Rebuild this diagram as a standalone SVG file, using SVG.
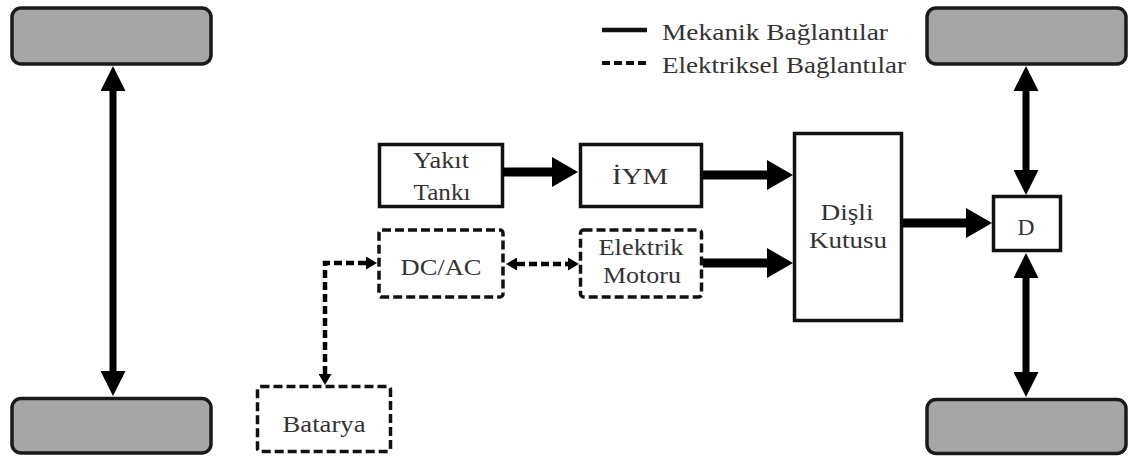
<svg xmlns="http://www.w3.org/2000/svg" width="1143" height="461" viewBox="0 0 1143 461" font-family="'Liberation Serif', 'DejaVu Serif', serif">
  <style>
    .wheel { fill: #a6a6a6; stroke: #1a1a1a; stroke-width: 3.5; }
    .box { fill: #ffffff; stroke: #111111; stroke-width: 3.5; }
    .dbox { fill: #ffffff; stroke: #111111; stroke-width: 3.5; stroke-dasharray: 9 4; }
    .mech { fill: none; stroke: #000000; stroke-width: 9; }
    .mechv { fill: none; stroke: #000000; stroke-width: 7; }
    .elec { fill: none; stroke: #000000; stroke-width: 4.5; stroke-dasharray: 8 4; }
    .lbl { font-family: 'Liberation Serif', 'DejaVu Serif', serif; font-size: 23px; fill: #333333; }
    .mid { text-anchor: middle; }
  </style>
  <defs>
    <marker id="headH" markerUnits="userSpaceOnUse" viewBox="0 0 26 30" markerWidth="26" markerHeight="30" refX="0" refY="15" orient="auto-start-reverse">
      <path d="M0,0 L26,15 L0,30 z" fill="#000"/>
    </marker>
    <marker id="headV" markerUnits="userSpaceOnUse" viewBox="0 0 25 25" markerWidth="25" markerHeight="25" refX="0" refY="12.5" orient="auto-start-reverse">
      <path d="M0,0 L25,12.5 L0,25 z" fill="#000"/>
    </marker>
    <marker id="headS" markerUnits="userSpaceOnUse" viewBox="0 0 11 13" markerWidth="11" markerHeight="13" refX="0" refY="6.5" orient="auto-start-reverse">
      <path d="M0,0 L11,6.5 L0,13 z" fill="#000"/>
    </marker>
  </defs>

  <!-- legend -->
  <g id="legend">
    <line x1="602" y1="30" x2="647" y2="30" stroke="#111" stroke-width="4.5"/>
    <text class="lbl" x="662" y="40" textLength="226" lengthAdjust="spacingAndGlyphs">Mekanik Bağlantılar</text>
    <line x1="602" y1="63" x2="647" y2="63" stroke="#111" stroke-width="4" stroke-dasharray="8 4"/>
    <text class="lbl" x="662" y="73" textLength="244" lengthAdjust="spacingAndGlyphs">Elektriksel Bağlantılar</text>
  </g>

  <!-- wheels -->
  <g id="wheel-front-left"><rect class="wheel" x="12" y="8" width="199" height="56" rx="9"/></g>
  <g id="wheel-rear-left"><rect class="wheel" x="12" y="398.5" width="199" height="54.5" rx="9"/></g>
  <g id="wheel-front-right"><rect class="wheel" x="927" y="8" width="199" height="56" rx="9"/></g>
  <g id="wheel-rear-right"><rect class="wheel" x="927" y="399.5" width="199" height="54" rx="9"/></g>

  <!-- powertrain blocks -->
  <g id="fuel-tank">
    <rect class="box" x="379.5" y="144.5" width="123" height="62"/>
    <text class="lbl mid" x="441" y="168" textLength="56" lengthAdjust="spacingAndGlyphs">Yakıt</text>
    <text class="lbl mid" x="442" y="200" textLength="57" lengthAdjust="spacingAndGlyphs">Tankı</text>
  </g>
  <g id="ice">
    <rect class="box" x="580.5" y="144.5" width="121" height="62"/>
    <text class="lbl mid" x="640" y="184" style="font-size:24px" textLength="56" lengthAdjust="spacingAndGlyphs">İYM</text>
  </g>
  <g id="inverter">
    <rect class="dbox" x="379" y="230" width="124" height="67" rx="3"/>
    <text class="lbl mid" x="441" y="275" style="font-size:24px" textLength="81" lengthAdjust="spacingAndGlyphs">DC/AC</text>
  </g>
  <g id="electric-motor">
    <rect class="dbox" x="580.5" y="230" width="121" height="67" rx="3"/>
    <text class="lbl mid" x="641" y="255" textLength="85" lengthAdjust="spacingAndGlyphs">Elektrik</text>
    <text class="lbl mid" x="642" y="283" textLength="78" lengthAdjust="spacingAndGlyphs">Motoru</text>
  </g>
  <g id="gearbox">
    <rect class="box" x="794.5" y="133.5" width="107" height="187"/>
    <text class="lbl mid" x="847" y="220" textLength="53" lengthAdjust="spacingAndGlyphs">Dişli</text>
    <text class="lbl mid" x="848" y="248" textLength="78" lengthAdjust="spacingAndGlyphs">Kutusu</text>
  </g>
  <g id="differential">
    <rect class="box" x="993.5" y="196.5" width="67" height="54"/>
    <text class="lbl mid" x="1026" y="235" textLength="17" lengthAdjust="spacingAndGlyphs">D</text>
  </g>
  <g id="battery">
    <rect class="dbox" x="257.5" y="386.5" width="133" height="65" rx="3"/>
    <text class="lbl mid" x="324" y="432" textLength="83" lengthAdjust="spacingAndGlyphs">Batarya</text>
  </g>

  <!-- connectors -->
  <g id="connectors">
    <path class="mechv" d="M113,91 L113,371" marker-start="url(#headV)" marker-end="url(#headV)"/>
    <path class="mechv" d="M1026,91 L1026,170" marker-start="url(#headV)" marker-end="url(#headV)"/>
    <path class="mechv" d="M1026,278 L1026,372" marker-start="url(#headV)" marker-end="url(#headV)"/>
    <path class="mech" d="M503,172 L552,172" marker-end="url(#headH)"/>
    <path class="mech" d="M703,175 L767,175" marker-end="url(#headH)"/>
    <path class="mech" d="M703,263 L767,263" marker-end="url(#headH)"/>
    <path class="mech" d="M903,223 L966,223" marker-end="url(#headH)"/>
    <path class="elec" d="M517,264 L568,264" marker-start="url(#headS)" marker-end="url(#headS)"/>
    <path class="elec" d="M325,374 L325,263 L366,263" marker-start="url(#headS)" marker-end="url(#headS)"/>
  </g>
</svg>
